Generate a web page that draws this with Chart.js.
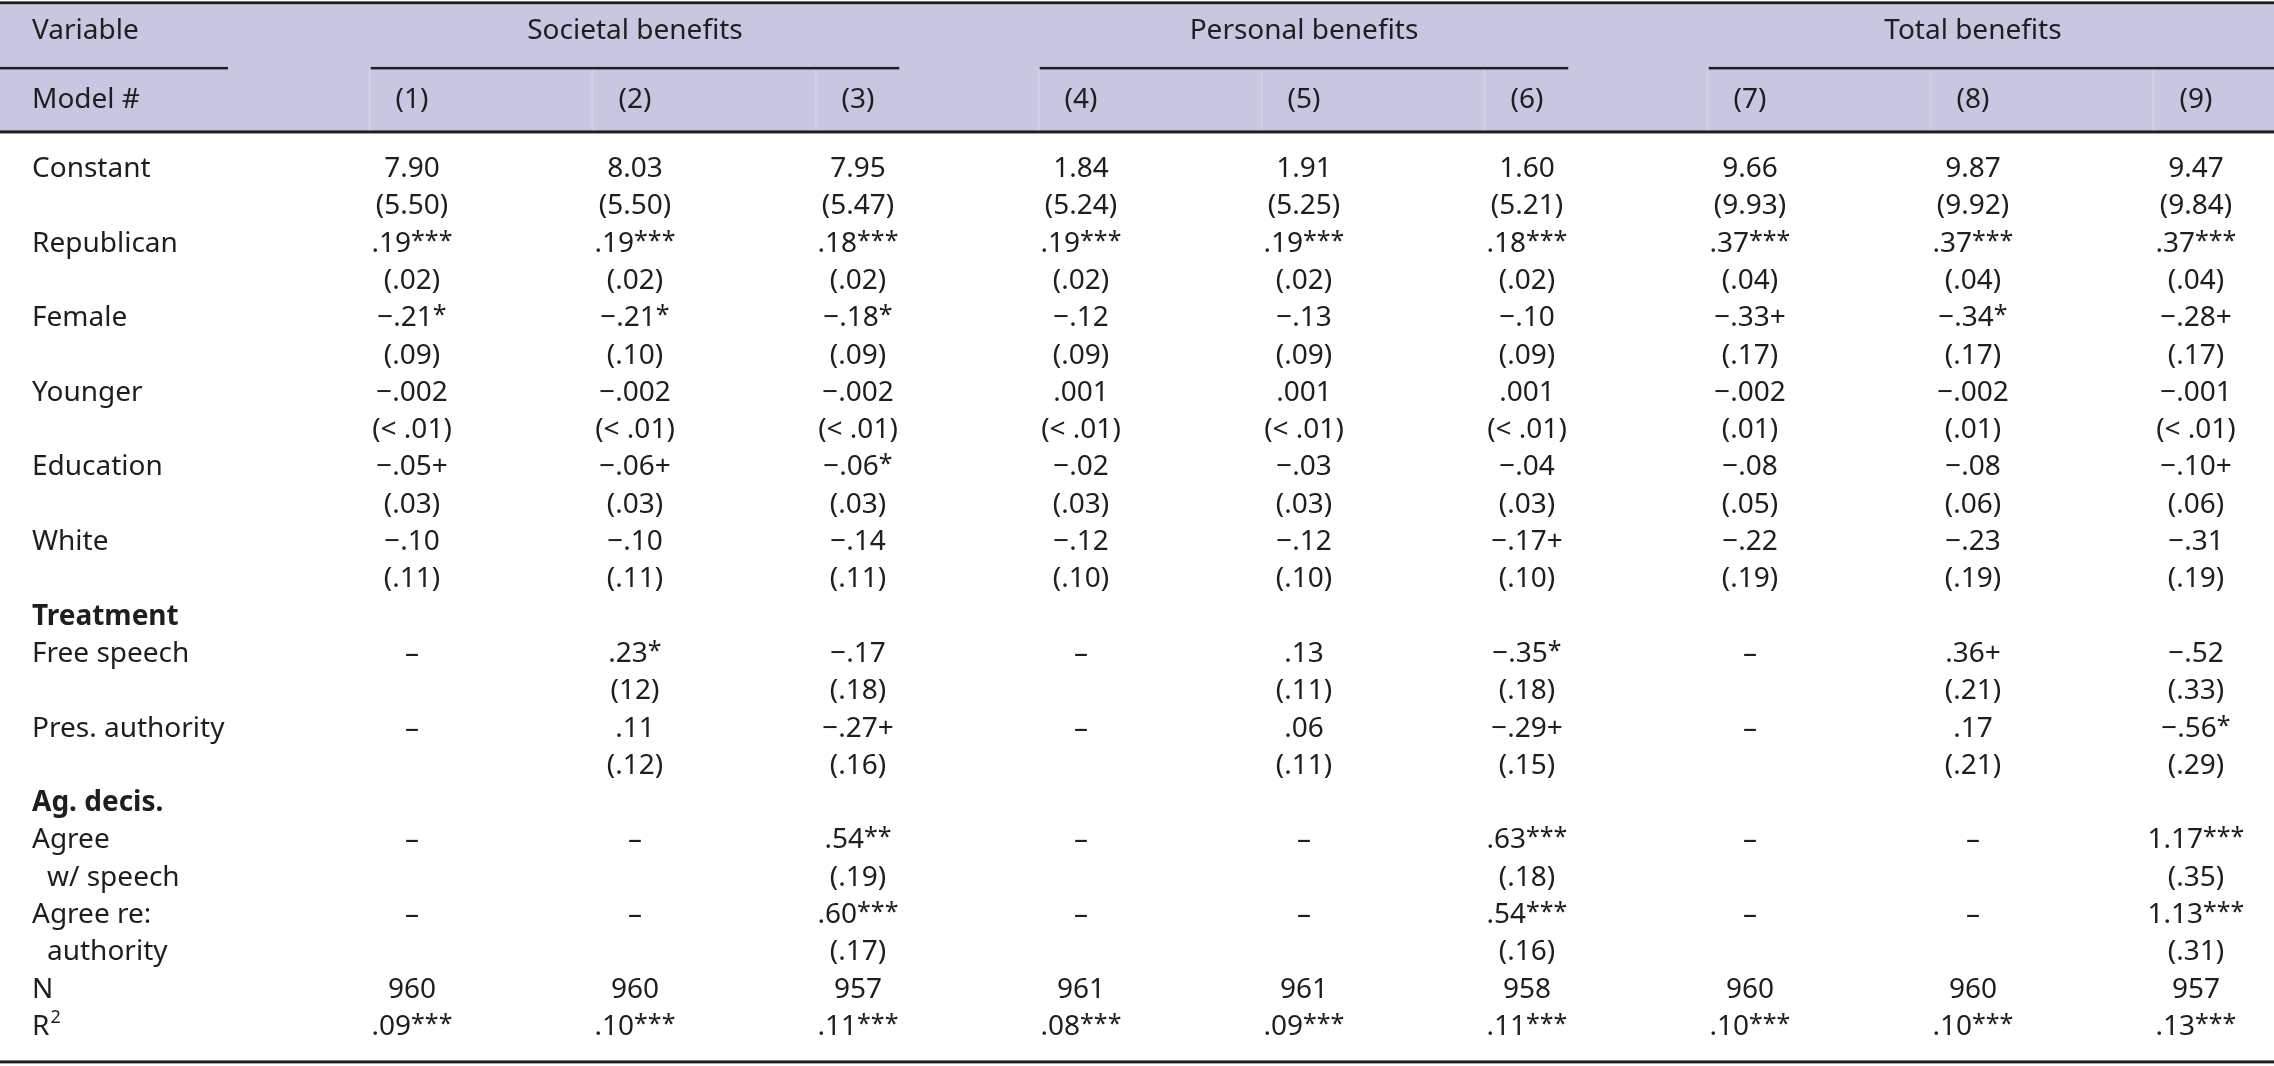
<!DOCTYPE html>
<html>
<head>
<meta charset="utf-8">
<script src="https://cdn.jsdelivr.net/npm/chart.js@4"></script>
<style>
    html, body { margin: 0; padding: 0; background: #fff; }
    #regTable { display: block; }
</style>
</head>
<body>
<canvas id="regTable" width="2274" height="1066"></canvas>
<script>
/* table content: one entry per model column, rows follow the term order */
const groups = ['Societal benefits', 'Personal benefits', 'Total benefits'];
const models = ['(1)', '(2)', '(3)', '(4)', '(5)', '(6)', '(7)', '(8)', '(9)'];
const terms = [['Constant'], ['Republican'], ['Female'], ['Younger'], ['Education'], ['White'],
    ['Free speech'], ['Pres. authority'], ['Agree', 'w/ speech'], ['Agree re:', 'authority']];
const sectionHeads = ['Treatment', 'Ag. decis.'];

const coefficients = [
    ['7.90', '8.03', '7.95', '1.84', '1.91', '1.60', '9.66', '9.87', '9.47'],
    ['.19***', '.19***', '.18***', '.19***', '.19***', '.18***', '.37***', '.37***', '.37***'],
    ['−.21*', '−.21*', '−.18*', '−.12', '−.13', '−.10', '−.33+', '−.34*', '−.28+'],
    ['−.002', '−.002', '−.002', '.001', '.001', '.001', '−.002', '−.002', '−.001'],
    ['−.05+', '−.06+', '−.06*', '−.02', '−.03', '−.04', '−.08', '−.08', '−.10+'],
    ['−.10', '−.10', '−.14', '−.12', '−.12', '−.17+', '−.22', '−.23', '−.31'],
    ['–', '.23*', '−.17', '–', '.13', '−.35*', '–', '.36+', '−.52'],
    ['–', '.11', '−.27+', '–', '.06', '−.29+', '–', '.17', '−.56*'],
    ['–', '–', '.54**', '–', '–', '.63***', '–', '–', '1.17***'],
    ['–', '–', '.60***', '–', '–', '.54***', '–', '–', '1.13***']
];
const standardErrors = [
    ['(5.50)', '(5.50)', '(5.47)', '(5.24)', '(5.25)', '(5.21)', '(9.93)', '(9.92)', '(9.84)'],
    ['(.02)', '(.02)', '(.02)', '(.02)', '(.02)', '(.02)', '(.04)', '(.04)', '(.04)'],
    ['(.09)', '(.10)', '(.09)', '(.09)', '(.09)', '(.09)', '(.17)', '(.17)', '(.17)'],
    ['(< .01)', '(< .01)', '(< .01)', '(< .01)', '(< .01)', '(< .01)', '(.01)', '(.01)', '(< .01)'],
    ['(.03)', '(.03)', '(.03)', '(.03)', '(.03)', '(.03)', '(.05)', '(.06)', '(.06)'],
    ['(.11)', '(.11)', '(.11)', '(.10)', '(.10)', '(.10)', '(.19)', '(.19)', '(.19)'],
    ['', '(12)', '(.18)', '', '(.11)', '(.18)', '', '(.21)', '(.33)'],
    ['', '(.12)', '(.16)', '', '(.11)', '(.15)', '', '(.21)', '(.29)'],
    ['', '', '(.19)', '', '', '(.18)', '', '', '(.35)'],
    ['', '', '(.17)', '', '', '(.16)', '', '', '(.31)']
];
const observations = ['960', '960', '957', '961', '961', '958', '960', '960', '957'];
const rSquared = ['.09***', '.10***', '.11***', '.08***', '.09***', '.11***', '.10***', '.10***', '.13***'];

/* layout: x in column units (model 1..9), y in text lines (0 = Constant) */
const termLines = [0, 2, 4, 6, 8, 10, 13, 15, 18, 20];
const sectionLines = [12, 17];
const nLine = 22, r2Line = 23;
const labelCol = -0.704, indent = 15;
const varLine = -3.70, modelLine = -1.86;
const ruleTop = -4.40, bandTop = -4.34, ruleGroup = -2.65, ruleHead = -0.94, ruleBottom = 23.99;

const FONT = '28px "Noto Sans"';
const BOLD = 'bold 28px "Noto Sans"';
const STAR = '25px "Noto Sans"';
const INK = '#1e1e1e';

function drawCell(ctx, text, cx, cy, align) {
    const m = text.match(/^(.*?)(\*+)$/);
    const main = m ? m[1] : text;
    const stars = m ? m[2] : '';
    ctx.font = FONT;
    const w1 = ctx.measureText(main).width;
    ctx.font = STAR;
    const w2 = stars ? ctx.measureText(stars).width : 0;
    const x0 = align === 'left' ? cx : cx - (w1 + w2) / 2;
    ctx.textAlign = 'left';
    ctx.textBaseline = 'alphabetic';
    ctx.font = FONT;
    ctx.fillText(main, x0, cy + 10);
    if (stars) {
        ctx.font = STAR;
        ctx.fillText(stars, x0 + w1, cy + 7);
    }
}

function rule(ctx, x1, x2, y, w) {
    ctx.fillRect(x1, y - w / 2, x2 - x1, w);
}

const tableDraw = {
    id: 'tableDraw',
    beforeDatasetsDraw(chart) {
        const { ctx, width, scales: { x, y } } = chart;
        ctx.save();
        // header band
        ctx.fillStyle = 'rgb(199, 199, 226)';
        const bt = y.getPixelForValue(bandTop), bb = y.getPixelForValue(ruleHead);
        ctx.fillRect(0, bt, width, bb - bt);
        // faint cell edges in the model row
        ctx.fillStyle = 'rgb(208, 208, 232)';
        models.forEach((m, j) => {
            const px = x.getPixelForValue(j + 1 - 0.19);
            const gy = y.getPixelForValue(ruleGroup);
            ctx.fillRect(px - 1, gy, 2, bb - gy);
        });
        // rules
        ctx.fillStyle = INK;
        rule(ctx, 0, width, y.getPixelForValue(ruleTop), 3);
        rule(ctx, 0, width, y.getPixelForValue(ruleHead), 3);
        rule(ctx, 0, width, y.getPixelForValue(ruleBottom), 3);
        const gy = y.getPixelForValue(ruleGroup);
        rule(ctx, 0, x.getPixelForValue(0.175), gy, 2.5);
        groups.forEach((g, i) => {
            const x1 = x.getPixelForValue(3 * i + 1 - 0.185);
            const x2 = i === groups.length - 1 ? width : x.getPixelForValue(3 * i + 3 + 0.185);
            rule(ctx, x1, x2, gy, 2.5);
        });
        ctx.restore();
    },
    afterDatasetsDraw(chart) {
        const { ctx, scales: { x, y } } = chart;
        ctx.save();
        ctx.fillStyle = INK;
        const lx = x.getPixelForValue(labelCol);
        // header texts
        drawCell(ctx, 'Variable', lx, y.getPixelForValue(varLine), 'left');
        drawCell(ctx, 'Model #', lx, y.getPixelForValue(modelLine), 'left');
        groups.forEach((g, i) => drawCell(ctx, g, x.getPixelForValue(3 * i + 2), y.getPixelForValue(varLine)));
        models.forEach((m, j) => drawCell(ctx, m, x.getPixelForValue(j + 1), y.getPixelForValue(modelLine)));
        // row labels
        terms.forEach((t, i) => {
            t.forEach((part, k) => drawCell(ctx, part, lx + (k ? indent : 0), y.getPixelForValue(termLines[i] + k), 'left'));
        });
        sectionHeads.forEach((s, i) => {
            ctx.font = BOLD;
            ctx.textAlign = 'left';
            ctx.fillText(s, lx, y.getPixelForValue(sectionLines[i]) + 10);
        });
        drawCell(ctx, 'N', lx, y.getPixelForValue(nLine), 'left');
        const ry = y.getPixelForValue(r2Line);
        ctx.font = FONT;
        ctx.fillText('R', lx, ry + 10);
        const rw = ctx.measureText('R').width;
        ctx.font = '18px "Noto Sans"';
        ctx.fillText('2', lx + rw + 1, ry - 2);
        // cell values, placed by the scatter points
        chart.data.datasets.forEach((ds, di) => {
            chart.getDatasetMeta(di).data.forEach((pt, k) => {
                drawCell(ctx, ds.data[k].text, pt.x, pt.y);
            });
        });
        ctx.restore();
    }
};

const datasets = models.map((m, j) => {
    const pts = [];
    terms.forEach((t, i) => {
        pts.push({ x: j + 1, y: termLines[i], text: coefficients[i][j] });
        if (standardErrors[i][j]) pts.push({ x: j + 1, y: termLines[i] + 1, text: standardErrors[i][j] });
    });
    pts.push({ x: j + 1, y: nLine, text: observations[j] });
    pts.push({ x: j + 1, y: r2Line, text: rSquared[j] });
    return { label: m, data: pts, pointRadius: 0, pointHoverRadius: 0, showLine: false };
});

new Chart(document.getElementById('regTable'), {
    type: 'scatter',
    data: { datasets: datasets },
    options: {
        responsive: false,
        animation: false,
        devicePixelRatio: 1,
        layout: { padding: 0 },
        events: [],
        plugins: { legend: { display: false }, tooltip: { enabled: false } },
        scales: {
            x: { type: 'linear', display: false, min: -0.8475, max: 9.35 },
            y: { type: 'linear', display: false, reverse: true, min: -4.477, max: 24.10 }
        }
    },
    plugins: [tableDraw]
});
</script>
</body>
</html>
